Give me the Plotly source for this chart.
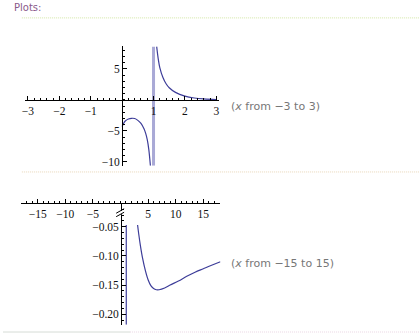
import plotly.graph_objects as go

W, H = 419, 335

# ---- data ----
top_left_x = [0.0, 0.05, 0.1, 0.2, 0.3, 0.4, 0.5, 0.6, 0.7, 0.75, 0.8, 0.85, 0.9]
top_left_y = [-4.3, -3.75, -3.4, -3.08, -2.97, -3.0, -3.3, -3.8, -4.7, -5.4, -6.4, -8.0, -10.6]
top_right_x = [1.1, 1.15, 1.2, 1.3, 1.4, 1.5, 1.7, 2.0, 2.3, 2.6, 3.0]
top_right_y = [8.6, 6.6, 5.2, 3.6, 2.6, 1.95, 1.2, 0.6, 0.3, 0.15, 0.05]
top_jump_x = [1.0, 1.0]
top_jump_y = [-10.6, 8.6]

bot_left_x = [1.05, 1.05]
bot_left_y = [-0.047, -0.218]
bot_right_x = [3.1, 3.3, 3.6, 4.0, 4.5, 5.0, 5.5, 6.0, 6.5, 7.0, 8.0, 9.0, 10.5, 12.0, 13.5, 15.0, 16.5, 18.1]
bot_right_y = [-0.047, -0.062, -0.082, -0.104, -0.125, -0.141, -0.151, -0.156, -0.158, -0.158,
               -0.155, -0.150, -0.143, -0.135, -0.128, -0.122, -0.116, -0.110]

top_xticks = [-3, -2, -1, 1, 2, 3]
top_xlabels = ["−3", "−2", "−1", "1", "2", "3"]
top_yticks = [5, -5, -10]
top_ylabels = ["5", "−5", "−10"]
bot_xticks = [-15, -10, -5, 5, 10, 15]
bot_xlabels = ["−15", "−10", "−5", "5", "10", "15"]
bot_yticks = [-0.05, -0.10, -0.15, -0.20]
bot_ylabels = ["−0.05", "−0.10", "−0.15", "−0.20"]

CURVE = "#3d3d99"
JUMP = "#a9a9d6"

def px(xp):
    return xp / W

def py(yp):
    return (H - yp) / H

fig = go.Figure()
fig.add_trace(go.Scatter(x=top_jump_x, y=top_jump_y, mode="lines", line=dict(color=JUMP, width=3),
                         xaxis="x", yaxis="y", hoverinfo="skip"))
for xs, ys in [(top_left_x, top_left_y), (top_right_x, top_right_y)]:
    fig.add_trace(go.Scatter(x=xs, y=ys, mode="lines", line=dict(color=CURVE, width=1.2, shape="spline"),
                             xaxis="x", yaxis="y"))
for xs, ys in [(bot_left_x, bot_left_y), (bot_right_x, bot_right_y)]:
    fig.add_trace(go.Scatter(x=xs, y=ys, mode="lines", line=dict(color=CURVE, width=1.2, shape="spline"),
                             xaxis="x2", yaxis="y2"))

tickfont = dict(family="Liberation Serif", size=11.5, color="#111111")
common = dict(showgrid=False, zeroline=False, showline=True, linecolor="black", linewidth=1,
              ticks="inside", ticklen=4, tickwidth=1, tickcolor="black", tickfont=tickfont,
              fixedrange=True)

fig.update_layout(
    width=W, height=H, margin=dict(l=0, r=0, t=0, b=0),
    paper_bgcolor="white", plot_bgcolor="rgba(0,0,0,0)", showlegend=False,
    xaxis=dict(range=[-3.1, 3.1], domain=[px(22), px(218)], anchor="free", position=py(100.7),
               tickvals=top_xticks, ticktext=top_xlabels,
               minor=dict(dtick=0.2, tick0=0, ticks="inside", ticklen=2, tickcolor="black"), **common),
    yaxis=dict(range=[-10.6, 8.6], domain=[py(166.7), py(46.7)], anchor="free", position=px(120),
               tickvals=top_yticks, ticktext=top_ylabels,
               minor=dict(dtick=1, tick0=0, ticks="inside", ticklen=2, tickcolor="black"), **common),
    xaxis2=dict(range=[-18.0, 18.1], domain=[px(18.2), px(219)], anchor="free", position=py(204),
                tickvals=bot_xticks, ticktext=bot_xlabels,
                minor=dict(dtick=1, tick0=0, ticks="inside", ticklen=2, tickcolor="black"), **common),
    yaxis2=dict(range=[-0.218, -0.009], domain=[py(326.7), py(204)], anchor="free", position=px(119),
                tickvals=bot_yticks, ticktext=bot_ylabels,
                minor=dict(dtick=0.01, tick0=0, ticks="inside", ticklen=2, tickcolor="black"), **common),
)

shapes = [
    dict(type="line", xref="paper", yref="paper", x0=px(19), x1=px(419), y0=py(18), y1=py(18),
         line=dict(color="#d2e6a6", width=1, dash="1px,1px")),
    dict(type="line", xref="paper", yref="paper", x0=px(19), x1=px(419), y0=py(173), y1=py(173),
         line=dict(color="#e8d6b8", width=1, dash="1px,1px")),
    dict(type="line", xref="paper", yref="paper", x0=px(0), x1=px(128), y0=py(334), y1=py(334),
         line=dict(color="#d6dcd6", width=1)),
    dict(type="line", xref="paper", yref="paper", x0=px(128), x1=px(419), y0=py(334), y1=py(334),
         line=dict(color="#ead6e4", width=1, dash="1px,1px")),
    # axis break marker
    dict(type="rect", xref="paper", yref="paper", x0=px(117), x1=px(121), y0=py(215.5), y1=py(212),
         line=dict(width=0), fillcolor="white", layer="above"),
    dict(type="line", xref="paper", yref="paper", x0=px(114), x1=px(122), y0=py(214.5), y1=py(210),
         line=dict(color="black", width=1), layer="above"),
    dict(type="line", xref="paper", yref="paper", x0=px(114), x1=px(122), y0=py(218), y1=py(213.5),
         line=dict(color="black", width=1), layer="above"),
]
fig.update_layout(shapes=shapes)

labfont = dict(family="DejaVu Sans", size=11, color="#777777")
fig.add_annotation(x=px(9), y=py(8), xref="paper", yref="paper", xanchor="left", yanchor="middle",
                   text="Plots:", showarrow=False,
                   font=dict(family="DejaVu Sans", size=10, color="#8a5a8a"))
fig.add_annotation(x=px(228), y=py(107), xref="paper", yref="paper", xanchor="left", yanchor="middle",
                   text="(<i>x</i> from −3 to 3)", showarrow=False, font=labfont)
fig.add_annotation(x=px(228), y=py(265), xref="paper", yref="paper", xanchor="left", yanchor="middle",
                   text="(<i>x</i> from −15 to 15)", showarrow=False, font=labfont)

fig.write_html("out.html")
